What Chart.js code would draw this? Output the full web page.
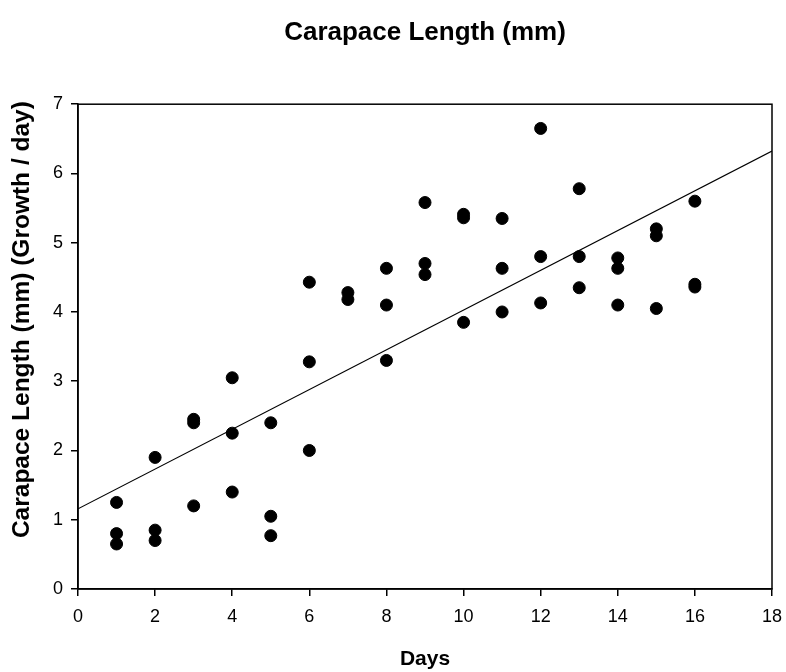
<!DOCTYPE html>
<html>
<head>
<meta charset="utf-8">
<script src="https://cdn.jsdelivr.net/npm/chart.js@4/dist/chart.umd.min.js"></script>
<style>
  html, body { margin: 0; padding: 0; background: #fff; }
  #wrap { width: 786px; height: 672px; }
</style>
</head>
<body>
<div id="wrap"><canvas id="chartCarapace"></canvas></div>
<script>
// days of each measurement and the carapace growth read on that day
const days = [
  1, 1, 1, 2, 2, 2, 3, 3, 3, 4, 4, 4, 5, 5, 5, 6, 6, 6,
  7, 7, 8, 8, 8, 9, 9, 9, 10, 10, 10, 11, 11, 11, 12, 12, 12,
  13, 13, 13, 14, 14, 14, 15, 15, 15, 16, 16, 16
];
const growth = [
  1.25, 0.80, 0.65, 1.90, 0.85, 0.70, 2.45, 2.40, 1.20, 3.05, 2.25, 1.40,
  2.40, 1.05, 0.77, 4.43, 3.28, 2.00, 4.28, 4.18, 4.63, 4.10, 3.30,
  5.58, 4.70, 4.54, 5.41, 5.36, 3.85, 5.35, 4.63, 4.00, 6.65, 4.80, 4.13,
  5.78, 4.80, 4.35, 4.78, 4.63, 4.10, 5.20, 5.10, 4.05, 5.60, 4.40, 4.36
];
const xTicks = [0, 2, 4, 6, 8, 10, 12, 14, 16, 18];
const yTicks = [0, 1, 2, 3, 4, 5, 6, 7];
const yTitle = "Carapace Length (mm) (Growth / day)";

const FONT = "'Liberation Sans', Arial, sans-serif";

// least squares line through the points, drawn across the whole x range
function fitLine(xs, ys) {
  const n = xs.length;
  let sx = 0, sy = 0, sxx = 0, sxy = 0;
  for (let i = 0; i < n; i++) {
    sx += xs[i]; sy += ys[i];
    sxx += xs[i] * xs[i]; sxy += xs[i] * ys[i];
  }
  const b = (n * sxy - sx * sy) / (n * sxx - sx * sx);
  const a = (sy - b * sx) / n;
  const x0 = xTicks[0], x1 = xTicks[xTicks.length - 1];
  return [{ x: x0, y: a + b * x0 }, { x: x1, y: a + b * x1 }];
}

const points = days.map((d, i) => ({ x: d, y: growth[i] }));

// closes the box on top and right of the plot, and writes the y title
// a little above the middle of the axis
const frame = {
  id: "frame",
  afterDatasetsDraw(chart) {
    const { ctx, chartArea: a } = chart;
    ctx.save();
    ctx.strokeStyle = "#000";
    ctx.lineWidth = 1.5;
    ctx.strokeRect(a.left, a.top, a.right - a.left, a.bottom - a.top);

    ctx.translate(22, (a.top + a.bottom) / 2 - 27);
    ctx.rotate(-Math.PI / 2);
    ctx.fillStyle = "#000";
    ctx.font = "bold 24.5px " + FONT;
    ctx.textAlign = "center";
    ctx.textBaseline = "middle";
    ctx.fillText(yTitle, 0, 0);
    ctx.restore();
  }
};

new Chart(document.getElementById("chartCarapace").getContext("2d"), {
  type: "scatter",
  data: {
    datasets: [
      {
        label: "Carapace Length",
        data: points,
        backgroundColor: "#000",
        borderColor: "#000",
        pointRadius: 6,
        pointHoverRadius: 6
      },
      {
        label: "Regression",
        type: "line",
        data: fitLine(days, growth),
        borderColor: "#000",
        borderWidth: 1.2,
        pointRadius: 0,
        fill: false
      }
    ]
  },
  options: {
    responsive: true,
    maintainAspectRatio: false,
    animation: false,
    events: [],
    layout: { padding: { left: 0, right: 14, top: 0, bottom: 0 } },
    plugins: {
      legend: { display: false },
      tooltip: { enabled: false },
      title: {
        display: true,
        fullSize: false,
        text: "Carapace Length (mm)",
        color: "#000",
        font: { family: FONT, size: 26, weight: "bold" },
        padding: { top: 17, bottom: 56 }
      }
    },
    scales: {
      x: {
        type: "linear",
        min: 0,
        max: 18,
        afterBuildTicks: (s) => { s.ticks = xTicks.map(v => ({ value: v })); },
        afterFit: (s) => { s.height = 83; s.paddingRight = 0; s.paddingLeft = 0; },
        grid: { drawOnChartArea: false, tickLength: 7, tickColor: "#000", lineWidth: 1.5 },
        border: { color: "#000", width: 1.5 },
        ticks: { color: "#000", padding: 10, maxRotation: 0, font: { family: FONT, size: 18 } },
        title: {
          display: true,
          text: "Days",
          color: "#000",
          font: { family: FONT, size: 21, weight: "bold" },
          padding: { top: 0, bottom: 0 }
        }
      },
      y: {
        type: "linear",
        min: 0,
        max: 7,
        afterBuildTicks: (s) => { s.ticks = yTicks.map(v => ({ value: v })); },
        afterFit: (s) => { s.width = 78; },
        grid: { drawOnChartArea: false, tickLength: 7, tickColor: "#000", lineWidth: 1.5 },
        border: { color: "#000", width: 1.5 },
        ticks: { color: "#000", padding: 8, font: { family: FONT, size: 18 } }
      }
    }
  },
  plugins: [frame]
});
</script>
</body>
</html>
